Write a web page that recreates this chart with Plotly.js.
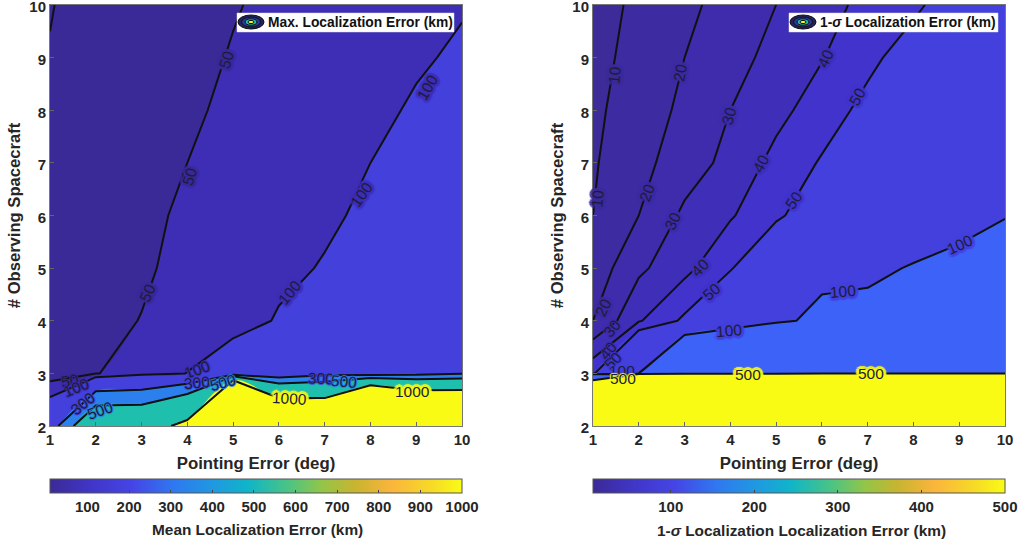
<!DOCTYPE html>
<html>
<head>
<meta charset="utf-8">
<script src="https://cdn.plot.ly/plotly-3.0.1.min.js"></script>
<style>html,body{margin:0;padding:0;background:#fff}#c{width:1018px;height:546px}</style>
</head>
<body>
<div id="c"></div>
<script>
const pointingError = [1,2,3,4,5,6,7,8,9,10];
const spacecraft = [2,3,4,5,6,7,8,9,10];

const maxY2  = [192,790,785,1117,6715,1963,1855,3761,2618,2545];
const maxY3  = [25,47,80,101,140,155,242,190,238,280];
const maxY4  = [28,40,51,65,80,104,125,150,175,200];
const maxY5  = [22,34,45,60,75,90,103,125,150,175];
const maxY6  = [18,30,43,55,68,80,93,108,128,150];
const maxY7  = [16,28,40,50,62,75,88,100,118,135];
const maxY8  = [14,25,37,46,55,67,78,90,105,120];
const maxY9  = [11,22,33,41,52,62,73,84,95,106];
const maxY10 = [9,19,28,38,48,57,68,78,88,97];
const maxZ = [maxY2,maxY3,maxY4,maxY5,maxY6,maxY7,maxY8,maxY9,maxY10];

const sigY2  = [3525,40000,40000,40000,40000,40000,40000,40000,40000,40000];
const sigY3  = [48,100,230,281,300,320,340,360,380,400];
const sigY4  = [20,39,52,68,92,110,115,125,145,170];
const sigY5  = [14,28,37,49,65,90,91,103,115,130];
const sigY6  = [10,20,32,39,48,58,65,72,82,98];
const sigY7  = [9,17,25,33,43,51,58,64,72,84];
const sigY8  = [8,15,22,30,37,45,53,58,65,75];
const sigY9  = [7.5,12.7,20,26.5,33,39.5,47.5,55,60,68];
const sigY10 = [7,11.5,17.5,24,30,36,43,48,56,62];
const sigZ = [sigY2,sigY3,sigY4,sigY5,sigY6,sigY7,sigY8,sigY9,sigY10];

const maxLevels = [10,50,100,300,500,1000];
const maxBase = '#3a2a98';
const maxFills = ['#3a2a98','#3e2eb6','#4340dc','#2c80ee','#1fbfae','#f9fb15'];
const sigLevels = [10,20,30,40,50,100,500];
const sigBase = '#3c2b98';
const sigFills = ['#3d2ba2','#3e2cac','#3f2fb8','#4133cc','#4340dd','#3c62f8','#f9fb15'];

const maxTicks = [100,200,300,400,500,600,700,800,900,1000];
const sigTicks = [100,200,300,400,500];

// Contour-line labels: data position, rotation, level, tight flag for crowded spots.
const maxLabelText = ['50','50','50','50','100','100','100','100','100','300','300','300','500','500','500','1000','1000'];
const maxLabelX = [4.85,4.05,3.14,1.44,9.24,7.81,6.24,4.21,1.57,6.93,4.22,1.72,2.09,4.78,7.43,6.24,8.91];
const maxLabelY = [8.97,6.74,4.53,2.87,8.44,6.39,4.53,3.08,2.74,2.91,2.82,2.42,2.30,2.82,2.84,2.53,2.66];
const maxLabelAngle = [-72,-72,-65,-10,-60,-55,-50,-20,-22,2,-5,-38,-20,-15,5,3,0];
const maxLabelTight = [0,0,0,1,0,0,0,1,1,1,1,1,1,1,1,0,0];

const sigLabelText = ['10','10','20','20','20','30','30','30','40','40','40','40','50','50','50','50','100','100','100','100','500','500','500'];
const sigLabelX = [1.48,1.09,2.90,2.18,1.22,3.96,2.75,1.41,6.08,4.67,3.34,1.33,6.77,5.38,3.60,1.44,9.02,6.46,3.98,1.63,1.65,4.38,7.07];
const sigLabelY = [8.67,6.33,8.72,6.44,4.26,7.89,5.90,3.86,8.98,6.99,5.02,3.44,8.27,6.29,4.55,3.25,5.44,4.55,3.82,3.06,2.90,2.97,3.00];
const sigLabelAngle = [-85,-85,-80,-70,-65,-75,-65,-50,-65,-62,-45,-50,-60,-55,-40,-45,-25,-5,-5,0,0,0,0];
const sigLabelTight = [0,0,0,0,0,0,0,1,0,0,0,1,0,0,0,1,0,0,0,1,1,0,0];

const parula = [[0,'#3b2a96'],[0.1,'#4036c8'],[0.2,'#4545e6'],[0.3,'#2f78f0'],[0.4,'#1f9ae0'],[0.48,'#0fb5c8'],
  [0.58,'#4cc483'],[0.66,'#93c548'],[0.74,'#c8b430'],[0.83,'#fbb53c'],[0.92,'#f6d828'],[1,'#f9fb15']];

const FONT = 'Liberation Sans, Arial, sans-serif';
const INK = '#262626';
const W = 1018, H = 546;

function panel(z, levels, base, fills, xa, ya, cb) {
  const tr = [];
  tr.push({type:'heatmap', x:pointingError, y:spacecraft, z:z, xaxis:xa, yaxis:ya, hoverinfo:'skip',
    zmin:cb.min, zmax:cb.max, colorscale:parula, showscale:true,
    colorbar:{orientation:'h', xref:'paper', yref:'paper', x:cb.left/W, xanchor:'left', y:1-479/H, yanchor:'top',
      lenmode:'pixels', len:412, thicknessmode:'pixels', thickness:14, xpad:0, ypad:0,
      outlinecolor:'#555', outlinewidth:1, ticks:'inside', ticklen:3, tickcolor:'#444', tickmode:'array', tickvals:cb.ticks,
      tickfont:{family:FONT,size:15,color:INK,weight:'bold'}}});
  // the side a constraint trace shades is the one it excludes
  tr.push({type:'contour', x:pointingError, y:spacecraft, z:z, xaxis:xa, yaxis:ya, showscale:false, hoverinfo:'skip',
    autocontour:false, fillcolor:base, line:{width:0}, contours:{type:'constraint', operation:'>', value:1e9}});
  levels.forEach((lv,i)=>{
    tr.push({type:'contour', x:pointingError, y:spacecraft, z:z, xaxis:xa, yaxis:ya, showscale:false, hoverinfo:'skip',
      autocontour:false, fillcolor:fills[i], line:{width:0},
      contours:{type:'constraint', operation:'<', value:lv}});
  });
  levels.forEach(lv=>{
    tr.push({type:'contour', x:pointingError, y:spacecraft, z:z, xaxis:xa, yaxis:ya, showscale:false, hoverinfo:'skip',
      autocontour:false, line:{width:2,color:'#111',smoothing:0},
      contours:{start:lv,end:lv,size:1,coloring:'none',showlabels:false}});
  });
  return tr;
}

const data = [
  ...panel(maxZ,maxLevels,maxBase,maxFills,'x','y',{min:10,max:1000,left:50,ticks:maxTicks}),
  ...panel(sigZ,sigLevels,sigBase,sigFills,'x2','y2',{min:7,max:500,left:593,ticks:sigTicks})
];

function xAxis(l,anchor){return {domain:[l/W,(l+412)/W],anchor:anchor,range:[1,10],dtick:1,tick0:1,ticks:'inside',ticklen:4,
  tickcolor:'#666',linecolor:'#777',linewidth:1,mirror:true,showgrid:false,zeroline:false,ticklabeloverflow:'allow',
  tickfont:{family:FONT,size:15,color:INK,weight:'bold'},
  title:{text:'Pointing Error (deg)',standoff:10,font:{family:FONT,size:16.8,color:INK,weight:'bold'}}};}
function yAxis(anchor){return {domain:[1-426/H,1-5/H],anchor:anchor,range:[2,10],dtick:1,tick0:2,ticks:'inside',ticklen:4,
  tickcolor:'#666',linecolor:'#777',linewidth:1,mirror:true,showgrid:false,zeroline:false,ticklabeloverflow:'allow',
  ticklabelshift:2,
  tickfont:{family:FONT,size:15,color:INK,weight:'bold'},
  title:{text:'# Observing Spacecraft',standoff:4,font:{family:FONT,size:16.6,color:INK,weight:'bold'}}};}

function legendKey(cx,cy){
  const ring=(rx,ry,fill)=>({type:'circle',xref:'paper',yref:'paper',x0:(cx-rx)/W,x1:(cx+rx)/W,y0:1-(cy+ry)/H,y1:1-(cy-ry)/H,
    fillcolor:fill,line:{color:'#111',width:1}});
  return [ring(13,7,'#23235e'),ring(9.5,5,'#2a3a9a'),ring(6,3.2,'#1fbfae'),ring(3,1.6,'#f9fb15')];
}
function legendBox(x0,x1){return {type:'rect',xref:'paper',yref:'paper',x0:x0/W,x1:x1/W,y0:1-32/H,y1:1-13/H,fillcolor:'#fff',line:{color:'#ddd',width:0.5}};}

function labelNotes(text,xs,ys,angles,tight,xr,yr,levels,base,fills){
  const wide=[[3,0],[-3,0],[0,3],[0,-3],[2,2],[-2,2],[2,-2],[-2,-2],[1,0],[-1,0],[0,1],[0,-1],[0,0]];
  const small=[[1,0],[-1,0],[0,1],[0,-1],[0,0]];
  return text.map((t,i)=>{
    const n=+t; const k=levels.indexOf(n);
    const c = fills[k]==='#f9fb15' ? fills[k] : (k>0?fills[k-1]:base);
    const halo = (tight[i]?small:wide).map(o=>`${o[0]}px ${o[1]}px 1px ${c}`).join(',');
    return {xref:xr,yref:yr,x:xs[i],y:ys[i],text:t,textangle:angles[i],showarrow:false,xanchor:'center',yanchor:'middle',
      font:{family:FONT,size:15.5,color:'#1c1c3a',shadow:halo}};
  });
}

const layout = {
  width:W,height:H,margin:{l:0,r:0,t:0,b:0,autoexpand:false},paper_bgcolor:'#fff',plot_bgcolor:'#3a2a98',showlegend:false,
  xaxis:xAxis(50,'y'),yaxis:yAxis('x'),xaxis2:xAxis(593,'y2'),yaxis2:yAxis('x2'),
  shapes:[legendBox(237,454),...legendKey(251,22),legendBox(789,998),...legendKey(803,22)],
  annotations:[
    ...labelNotes(maxLabelText,maxLabelX,maxLabelY,maxLabelAngle,maxLabelTight,'x','y',maxLevels,maxBase,maxFills),
    ...labelNotes(sigLabelText,sigLabelX,sigLabelY,sigLabelAngle,sigLabelTight,'x2','y2',sigLevels,sigBase,sigFills),
    {xref:'paper',yref:'paper',x:266/W,y:1-22.5/H,xanchor:'left',yanchor:'middle',showarrow:false,text:'Max. Localization Error (km)',
      font:{family:FONT,size:13.8,color:'#111',weight:'bold'}},
    {xref:'paper',yref:'paper',x:818/W,y:1-22.5/H,xanchor:'left',yanchor:'middle',showarrow:false,text:'1-<i>σ</i> Localization Error (km)',
      font:{family:FONT,size:13.8,color:'#111',weight:'bold'}},
    {xref:'paper',yref:'paper',x:257.5/W,y:1-529.5/H,xanchor:'center',yanchor:'middle',showarrow:false,text:'Mean Localization Error (km)',
      font:{family:FONT,size:15.4,color:INK,weight:'bold'}},
    {xref:'paper',yref:'paper',x:801/W,y:1-530/H,xanchor:'center',yanchor:'middle',showarrow:false,text:'1-<i>σ</i> Localization Localization Error (km)',
      font:{family:FONT,size:15.4,color:INK,weight:'bold'}}
  ]
};
Plotly.newPlot('c',data,layout,{displayModeBar:false,staticPlot:true});
</script>
</body>
</html>
